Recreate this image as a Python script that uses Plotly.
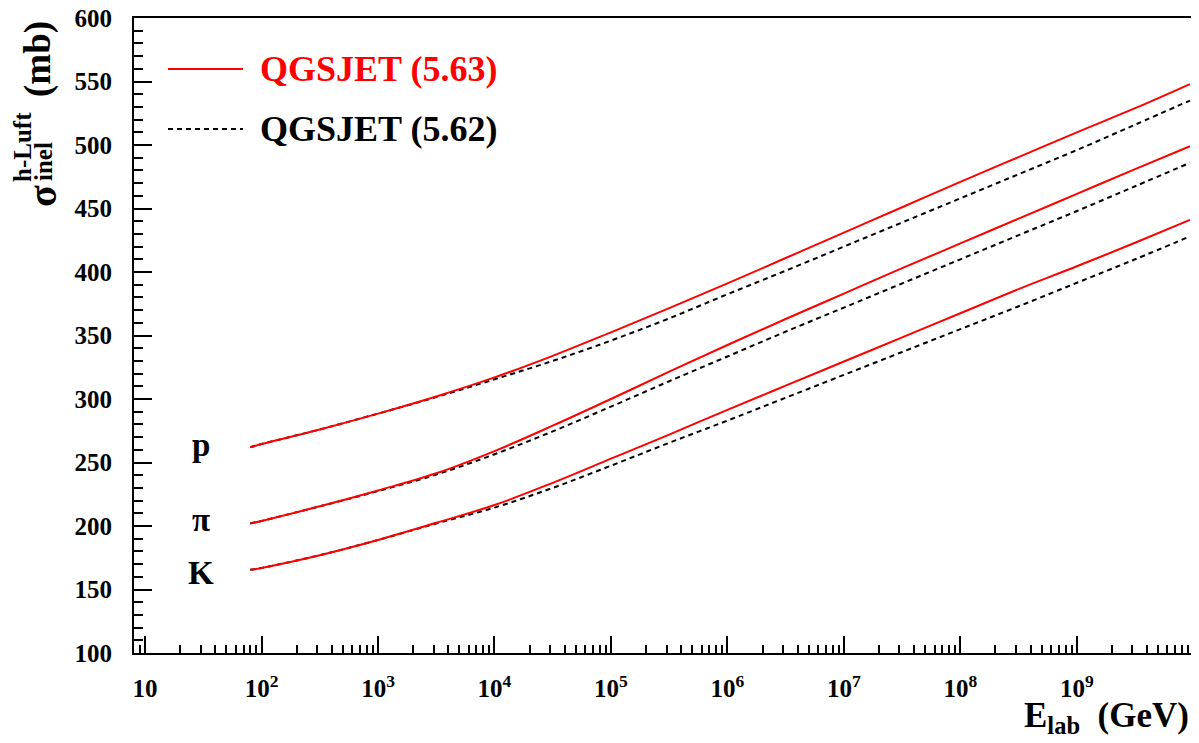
import plotly.graph_objects as go

# ---- data ----
energy_gev = [80, 100, 316, 1000, 3162, 1e4, 31623, 1e5, 316228, 1e6, 3162278,
              1e7, 31622777, 1e8, 316227766, 1e9, 3162277660, 9.35e9]

p_563 = [262, 264.5, 276, 288.5, 302, 317, 334, 352.5, 371.5, 391, 411,
         431, 451, 471, 490.5, 510, 529, 548]
p_562 = [262, 264.5, 276, 288.5, 301.5, 315.5, 330, 346, 363.5, 382.5, 401,
         420, 439, 458, 477, 496, 516, 535]
pi_563 = [202, 204, 215.5, 228, 241.5, 259, 279, 300, 321.5, 342.5, 363,
          383, 403, 422.5, 442, 461.5, 481, 499]
pi_562 = [202, 204, 215.5, 227.5, 240.5, 256.5, 274.5, 294, 314, 333.5, 353,
          372, 391, 410, 429, 448, 467.5, 486]
k_563 = [165.5, 167, 177, 189, 202.5, 216.5, 234, 253, 272, 291.5, 310.5,
         329.5, 348.5, 367.5, 386.5, 404.5, 423, 441]
k_562 = [165.5, 167, 177, 189, 202, 214.5, 230, 247.5, 265.5, 283, 301,
         319, 337, 355, 373, 391.5, 410, 428]

x_tickvals = [10, 1e2, 1e3, 1e4, 1e5, 1e6, 1e7, 1e8, 1e9]
x_tick_exponents = ["", "2", "3", "4", "5", "6", "7", "8", "9"]

particles = ["p", "π", "K"]
particle_label_y = [264, 205, 163]

legend_names = ["QGSJET (5.63)", "QGSJET (5.62)"]

RED = "#ff0000"
BLACK = "#000000"
FONT = "Liberation Serif"

x_ticktext = ["<b>10</b>" if not e else "<b>10<sup>%s</sup></b>" % e for e in x_tick_exponents]

# The page has an 8px body margin; figure is sized so the plot area lands at
# page pixels x 134..1191, y 18..653.
OFF = 8
W, H = 1199 - OFF, 743 - OFF
X0, X1, YT, YB = 134, 1191, 18, 653   # page pixels of the plot area
def px(x):
    return (x - X0) / (X1 - X0)
def py(y):
    return (YB - y) / (YB - YT)

fig = go.Figure()

for vals_new, vals_old in [(p_563, p_562), (pi_563, pi_562), (k_563, k_562)]:
    fig.add_trace(go.Scatter(x=energy_gev, y=vals_old, mode="lines",
                             line=dict(color=BLACK, width=2, dash="5px,4px", shape="spline"),
                             showlegend=False, hoverinfo="skip"))
    fig.add_trace(go.Scatter(x=energy_gev, y=vals_new, mode="lines",
                             line=dict(color=RED, width=2, shape="spline"),
                             showlegend=False, hoverinfo="skip"))

annotations = []
# particle labels
for name, yv in zip(particles, particle_label_y):
    annotations.append(dict(x=1.48, y=yv, xref="x", yref="y", text="<b>%s</b>" % name,
                            xanchor="center", yanchor="middle",
                            showarrow=False, font=dict(family=FONT, size=33, color=BLACK)))

# legend (manual, ROOT style)
shapes = [
    dict(type="line", xref="paper", yref="paper", x0=px(168), x1=px(243), y0=py(69), y1=py(69),
         line=dict(color=RED, width=2)),
    dict(type="line", xref="paper", yref="paper", x0=px(168), x1=px(243), y0=py(129), y1=py(129),
         line=dict(color=BLACK, width=2, dash="5px,4px")),
]
annotations.append(dict(x=px(258), y=py(69), xref="paper", yref="paper", xanchor="left", yanchor="middle",
                        text="<b>%s</b>" % legend_names[0], showarrow=False,
                        font=dict(family=FONT, size=36, color=RED)))
annotations.append(dict(x=px(258), y=py(129), xref="paper", yref="paper", xanchor="left", yanchor="middle",
                        text="<b>%s</b>" % legend_names[1], showarrow=False,
                        font=dict(family=FONT, size=36, color=BLACK)))

# x axis title
annotations.append(dict(x=1.0, y=py(717), xref="paper", yref="paper", xanchor="right", yanchor="middle",
                        text="<b>E<sub>lab</sub>  (GeV)</b>", showarrow=False,
                        font=dict(family=FONT, size=35, color=BLACK)))

# y axis title (pieces, rotated)
ytitle_parts = [("<b>(mb)</b>", 38, 59, 37), ("<b>σ</b>", 43, 196, 40),
                ("<b>h-Luft</b>", 22, 147, 25), ("<b>inel</b>", 43, 162, 25)]
for txt, xx, yy, sz in ytitle_parts:
    annotations.append(dict(x=px(xx), y=py(yy), xref="paper", yref="paper", textangle=-90,
                            xanchor="center", yanchor="middle",
                            text=txt, showarrow=False, font=dict(family=FONT, size=sz, color=BLACK)))

fig.update_layout(
    width=W, height=H,
    margin=dict(l=X0 - OFF, r=(W + OFF) - X1, t=YT - OFF, b=(H + OFF) - YB, autoexpand=False),
    paper_bgcolor="white", plot_bgcolor="white",
    showlegend=False,
    annotations=annotations, shapes=shapes,
    font=dict(family=FONT, color=BLACK),
)

fig.update_xaxes(
    type="log", range=[0.905, 9.98], automargin=False,
    tickvals=x_tickvals, ticktext=x_ticktext,
    ticks="inside", ticklen=17, tickwidth=2, tickcolor=BLACK,
    minor=dict(ticks="inside", ticklen=8, tickwidth=1.5, tickcolor=BLACK, dtick="D1"),
    showline=True, linewidth=2, linecolor=BLACK, mirror=True,
    showgrid=False, zeroline=False,
    tickfont=dict(family=FONT, size=25, color=BLACK),
    ticklabelstandoff=12, ticklabeloverflow="allow",
)
fig.update_yaxes(
    range=[100, 600], dtick=50, tick0=100, automargin=False,
    ticks="inside", ticklen=18, tickwidth=2, tickcolor=BLACK,
    minor=dict(ticks="inside", ticklen=9, tickwidth=1.5, tickcolor=BLACK, dtick=10),
    showline=True, linewidth=2, linecolor=BLACK, mirror=True,
    showgrid=False, zeroline=False,
    tickfont=dict(family=FONT, size=25, color=BLACK),
    tickprefix="<b>", ticksuffix="</b>",
    ticklabelstandoff=15, ticklabeloverflow="allow",
)

fig.write_html("out.html")
